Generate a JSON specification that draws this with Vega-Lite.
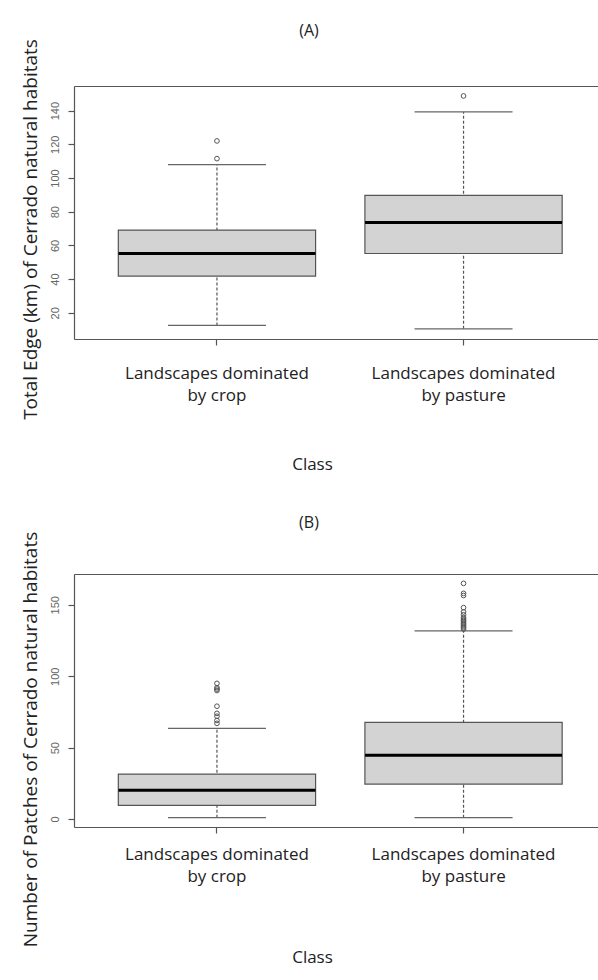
{
  "$schema": "https://vega.github.io/schema/vega-lite/v6.json",
  "padding": {"left": 20, "top": 22, "right": 0, "bottom": 8},
  "background": "white",
  "spacing": 43,
  "config": {
    "view": {"stroke": null},
    "font": "Open Sans",
    "axis": {"grid": false, "domainColor": "#555", "tickColor": "#555", "domainWidth": 1.2, "tickWidth": 1.2},
    "title": {"font": "Open Sans", "fontSize": 16, "fontWeight": "normal", "color": "#222"}
  },
  "datasets": {
    "statsA": [
      {"cls": "Landscapes dominated|by crop", "lo": 12.5, "q1": 41.8, "med": 55.2, "q3": 69.1, "hi": 107.9},
      {"cls": "Landscapes dominated|by pasture", "lo": 10.5, "q1": 55.2, "med": 73.6, "q3": 89.7, "hi": 139.2}
    ],
    "outA": [
      {"cls": "Landscapes dominated|by crop", "v": 111.5},
      {"cls": "Landscapes dominated|by crop", "v": 122},
      {"cls": "Landscapes dominated|by pasture", "v": 148.7}
    ],
    "statsB": [
      {"cls": "Landscapes dominated|by crop", "lo": 1, "q1": 9.6, "med": 20.1, "q3": 31.5, "hi": 63.5},
      {"cls": "Landscapes dominated|by pasture", "lo": 1, "q1": 24.5, "med": 44.6, "q3": 67.7, "hi": 131.8}
    ],
    "outB": [
      {"cls": "Landscapes dominated|by crop", "v": 67},
      {"cls": "Landscapes dominated|by crop", "v": 69},
      {"cls": "Landscapes dominated|by crop", "v": 72},
      {"cls": "Landscapes dominated|by crop", "v": 74},
      {"cls": "Landscapes dominated|by crop", "v": 79},
      {"cls": "Landscapes dominated|by crop", "v": 90},
      {"cls": "Landscapes dominated|by crop", "v": 91},
      {"cls": "Landscapes dominated|by crop", "v": 92},
      {"cls": "Landscapes dominated|by crop", "v": 95},
      {"cls": "Landscapes dominated|by pasture", "v": 133},
      {"cls": "Landscapes dominated|by pasture", "v": 134},
      {"cls": "Landscapes dominated|by pasture", "v": 135},
      {"cls": "Landscapes dominated|by pasture", "v": 136},
      {"cls": "Landscapes dominated|by pasture", "v": 137},
      {"cls": "Landscapes dominated|by pasture", "v": 138},
      {"cls": "Landscapes dominated|by pasture", "v": 139},
      {"cls": "Landscapes dominated|by pasture", "v": 140},
      {"cls": "Landscapes dominated|by pasture", "v": 141},
      {"cls": "Landscapes dominated|by pasture", "v": 143},
      {"cls": "Landscapes dominated|by pasture", "v": 145},
      {"cls": "Landscapes dominated|by pasture", "v": 148},
      {"cls": "Landscapes dominated|by pasture", "v": 156.5},
      {"cls": "Landscapes dominated|by pasture", "v": 158},
      {"cls": "Landscapes dominated|by pasture", "v": 165}
    ]
  },
  "vconcat": [
    {
      "width": 524,
      "height": 253,
      "title": {"text": "(A)", "offset": 0, "dx": -27},
      "resolve": {"axis": {"x": "independent"}},
      "layer": [
        {
          "data": {"name": "statsA"},
          "mark": {"type": "rule", "strokeDash": [3, 2], "color": "#555", "strokeWidth": 1.2},
          "encoding": {
            "x": {"field": "cls", "type": "nominal", "sort": null,
              "scale": {"type": "band", "paddingInner": 0.2, "paddingOuter": 0.1625, "align": 0.553},
              "axis": {"orient": "bottom", "labelAngle": 0, "labelLimit": 0, "labelExpr": "split(datum.label, '|')", "labelFont": "Open Sans", "labelFontSize": 17, "labelColor": "#222", "labelLineHeight": 22, "labelPadding": 20, "tickSize": 6, "labelBaseline": "top",
                "title": "Class", "titleFont": "Open Sans", "titleFontSize": 17, "titleFontWeight": "normal", "titleColor": "#222", "titleX": 238, "titleY": 125, "titleBaseline": "middle"}},
            "y": {"field": "lo", "type": "quantitative",
              "scale": {"domain": [4.44, 154.6], "nice": false, "zero": false},
              "axis": {"values": [20, 40, 60, 80, 100, 120, 140], "labelAngle": -90, "labelAlign": "center", "labelBaseline": "alphabetic", "labelFont": "Liberation Sans", "labelFontSize": 11, "labelColor": "#666", "tickSize": 6, "labelPadding": 10,
                "title": "Total Edge (km) of Cerrado natural habitats", "titleFont": "Open Sans", "titleFontSize": 19, "titleFontWeight": "normal", "titleColor": "#222", "titleX": -44, "titleY": 143, "titleBaseline": "middle", "titleAngle": 270}},
            "y2": {"field": "hi"}
          }
        },
        {
          "data": {"name": "statsA"},
          "mark": {"type": "bar", "fill": "#d3d3d3", "stroke": "#555", "strokeWidth": 1.2},
          "encoding": {
            "x": {"field": "cls", "type": "nominal", "sort": null,
              "axis": {"orient": "top", "labels": false, "ticks": false, "title": null}},
            "y": {"field": "q1", "type": "quantitative"},
            "y2": {"field": "q3"}
          }
        },
        {
          "data": {"name": "statsA"},
          "mark": {"type": "tick", "size": 98, "thickness": 1.3, "color": "#666", "opacity": 1},
          "encoding": {
            "x": {"field": "cls", "type": "nominal", "sort": null, "axis": null},
            "y": {"field": "lo", "type": "quantitative"}
          }
        },
        {
          "data": {"name": "statsA"},
          "mark": {"type": "tick", "size": 98, "thickness": 1.3, "color": "#666", "opacity": 1},
          "encoding": {
            "x": {"field": "cls", "type": "nominal", "sort": null, "axis": null},
            "y": {"field": "hi", "type": "quantitative"}
          }
        },
        {
          "data": {"name": "statsA"},
          "mark": {"type": "tick", "size": 197, "thickness": 3, "color": "#000", "opacity": 1},
          "encoding": {
            "x": {"field": "cls", "type": "nominal", "sort": null, "axis": null},
            "y": {"field": "med", "type": "quantitative"}
          }
        },
        {
          "data": {"name": "outA"},
          "mark": {"type": "point", "shape": "circle", "filled": false, "size": 22, "stroke": "#555", "strokeWidth": 1, "opacity": 1},
          "encoding": {
            "x": {"field": "cls", "type": "nominal", "sort": null, "axis": null},
            "y": {"field": "v", "type": "quantitative"}
          }
        }
      ]
    },
    {
      "width": 524,
      "height": 253,
      "title": {"text": "(B)", "offset": 0, "dx": -27},
      "resolve": {"axis": {"x": "independent"}},
      "layer": [
        {
          "data": {"name": "statsB"},
          "mark": {"type": "rule", "strokeDash": [3, 2], "color": "#555", "strokeWidth": 1.2},
          "encoding": {
            "x": {"field": "cls", "type": "nominal", "sort": null,
              "scale": {"type": "band", "paddingInner": 0.2, "paddingOuter": 0.1625, "align": 0.553},
              "axis": {"orient": "bottom", "labelAngle": 0, "labelLimit": 0, "labelExpr": "split(datum.label, '|')", "labelFont": "Open Sans", "labelFontSize": 17, "labelColor": "#222", "labelLineHeight": 22, "labelPadding": 13, "tickSize": 6, "labelBaseline": "top",
                "title": "Class", "titleFont": "Open Sans", "titleFontSize": 17, "titleFontWeight": "normal", "titleColor": "#222", "titleX": 238, "titleY": 130, "titleBaseline": "middle"}},
            "y": {"field": "lo", "type": "quantitative",
              "scale": {"domain": [-5.56, 171.56], "nice": false, "zero": false},
              "axis": {"values": [0, 50, 100, 150], "labelAngle": -90, "labelAlign": "center", "labelBaseline": "alphabetic", "labelFont": "Liberation Sans", "labelFontSize": 11, "labelColor": "#666", "tickSize": 6, "labelPadding": 10,
                "title": "Number of Patches of Cerrado natural habitats", "titleFont": "Open Sans", "titleFontSize": 19, "titleFontWeight": "normal", "titleColor": "#222", "titleX": -44, "titleY": 165, "titleBaseline": "middle", "titleAngle": 270}},
            "y2": {"field": "hi"}
          }
        },
        {
          "data": {"name": "statsB"},
          "mark": {"type": "bar", "fill": "#d3d3d3", "stroke": "#555", "strokeWidth": 1.2},
          "encoding": {
            "x": {"field": "cls", "type": "nominal", "sort": null,
              "axis": {"orient": "top", "labels": false, "ticks": false, "title": null}},
            "y": {"field": "q1", "type": "quantitative"},
            "y2": {"field": "q3"}
          }
        },
        {
          "data": {"name": "statsB"},
          "mark": {"type": "tick", "size": 98, "thickness": 1.3, "color": "#666", "opacity": 1},
          "encoding": {
            "x": {"field": "cls", "type": "nominal", "sort": null, "axis": null},
            "y": {"field": "lo", "type": "quantitative"}
          }
        },
        {
          "data": {"name": "statsB"},
          "mark": {"type": "tick", "size": 98, "thickness": 1.3, "color": "#666", "opacity": 1},
          "encoding": {
            "x": {"field": "cls", "type": "nominal", "sort": null, "axis": null},
            "y": {"field": "hi", "type": "quantitative"}
          }
        },
        {
          "data": {"name": "statsB"},
          "mark": {"type": "tick", "size": 197, "thickness": 3, "color": "#000", "opacity": 1},
          "encoding": {
            "x": {"field": "cls", "type": "nominal", "sort": null, "axis": null},
            "y": {"field": "med", "type": "quantitative"}
          }
        },
        {
          "data": {"name": "outB"},
          "mark": {"type": "point", "shape": "circle", "filled": false, "size": 22, "stroke": "#555", "strokeWidth": 1, "opacity": 1},
          "encoding": {
            "x": {"field": "cls", "type": "nominal", "sort": null, "axis": null},
            "y": {"field": "v", "type": "quantitative"}
          }
        }
      ]
    }
  ]
}
